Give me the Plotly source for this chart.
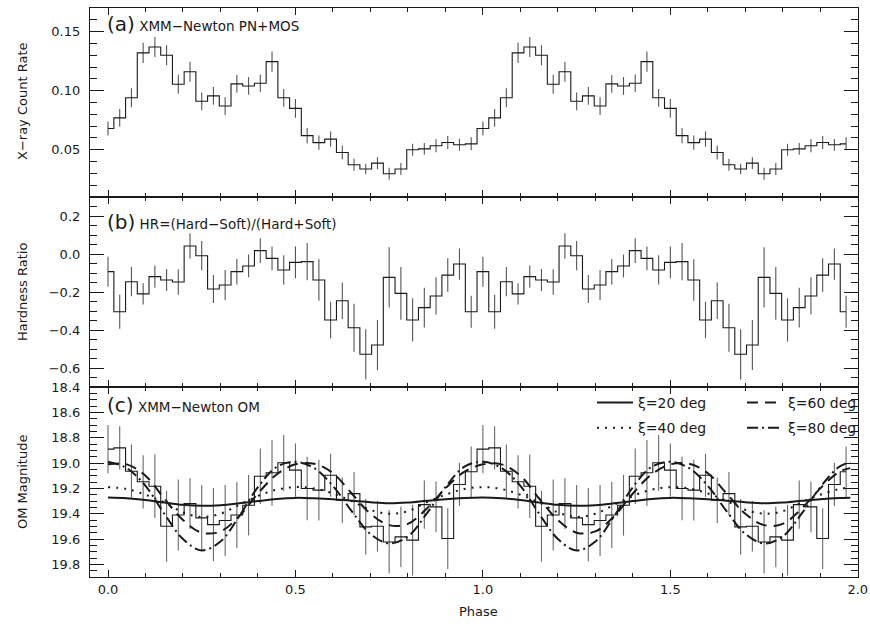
import plotly.graph_objects as go

# ---------------- data (one phase cycle of 32 bins, shown twice) ----------------
bin_phase = [k / 32 for k in range(32)]

rate = [0.068, 0.077, 0.094, 0.132, 0.137, 0.130, 0.1055, 0.116, 0.091, 0.0956,
        0.087, 0.1058, 0.104, 0.1063, 0.1246, 0.094, 0.085, 0.062, 0.056, 0.059,
        0.0477, 0.0373, 0.0337, 0.0387, 0.0297, 0.0337, 0.050, 0.0507, 0.0534, 0.0562,
        0.0542, 0.055]
rate_err = [0.0060, 0.0075, 0.0080, 0.0085, 0.0085, 0.0085, 0.0080, 0.0085, 0.0075, 0.0075,
            0.0075, 0.0075, 0.0075, 0.0075, 0.0085, 0.0075, 0.0080, 0.0065, 0.0060, 0.0065,
            0.0060, 0.0050, 0.0045, 0.0050, 0.0050, 0.0050, 0.0050, 0.0050, 0.0055, 0.0055,
            0.0050, 0.0055]

hr = [-0.093, -0.304, -0.146, -0.210, -0.119, -0.137, -0.147, 0.042, -0.009, -0.184,
      -0.163, -0.093, -0.063, 0.018, -0.023, -0.084, -0.044, -0.040, -0.137, -0.347,
      -0.246, -0.388, -0.528, -0.479, -0.123, -0.207, -0.347, -0.282, -0.221, -0.111,
      -0.053, -0.304]
hr_err = [0.079, 0.089, 0.077, 0.056, 0.058, 0.058, 0.067, 0.067, 0.077, 0.074,
          0.079, 0.067, 0.060, 0.065, 0.063, 0.077, 0.084, 0.098, 0.109, 0.096,
          0.096, 0.126, 0.132, 0.132, 0.158, 0.139, 0.114, 0.105, 0.098, 0.088,
          0.082, 0.084]

om = [18.89, 18.88, 19.064, 19.148, 19.183, 19.499, 19.41, 19.32, 19.433, 19.486,
      19.454, 19.41, 19.333, 19.104, 19.077, 18.998, 19.056, 19.201, 19.214, 19.096,
      19.293, 19.241, 19.504, 19.499, 19.623, 19.583, 19.609, 19.328, 19.346, 19.596,
      19.169, 19.069]
om_err = [0.19, 0.17, 0.21, 0.21, 0.25, 0.28, 0.28, 0.20, 0.26, 0.29,
          0.28, 0.26, 0.24, 0.22, 0.26, 0.22, 0.21, 0.25, 0.24, 0.17,
          0.18, 0.17, 0.22, 0.20, 0.25, 0.24, 0.28, 0.19, 0.20, 0.24,
          0.17, 0.20]

# model light curves read at phase steps of 0.05 over one cycle
model_phase = [0.00, 0.05, 0.10, 0.15, 0.20, 0.25, 0.30, 0.35, 0.40, 0.45,
               0.50, 0.55, 0.60, 0.65, 0.70, 0.75, 0.80, 0.85, 0.90, 0.95]
xi20 = [19.272, 19.278, 19.292, 19.312, 19.330, 19.338, 19.333, 19.318, 19.300, 19.283,
        19.275, 19.278, 19.285, 19.297, 19.310, 19.318, 19.312, 19.298, 19.285, 19.276]
xi40 = [19.19, 19.205, 19.25, 19.31, 19.39, 19.425, 19.40, 19.33, 19.26, 19.21,
        19.19, 19.20, 19.24, 19.30, 19.37, 19.40, 19.38, 19.31, 19.25, 19.205]
xi60 = [19.01, 19.01, 19.10, 19.28, 19.45, 19.55, 19.54, 19.42, 19.24, 19.09,
        19.01, 19.005, 19.08, 19.24, 19.40, 19.49, 19.48, 19.36, 19.20, 19.07]
xi80 = [18.99, 19.04, 19.18, 19.40, 19.60, 19.69, 19.62, 19.42, 19.19, 19.03,
        18.99, 19.04, 19.18, 19.38, 19.56, 19.635, 19.58, 19.40, 19.19, 19.03]
model_end_phase = 1.98
model_end = {"20": 19.273, "40": 19.19, "60": 19.04, "80": 18.995}

# ---------------- helpers ----------------
def two_cycles(vals):
    return list(vals) + list(vals)

ph = bin_phase + [p + 1 for p in bin_phase]
mph = model_phase + [p + 1 for p in model_phase] + [model_end_phase]

FONT = "DejaVu Sans"
INK = "#1a1a1a"
ERR = "#555555"

fig = go.Figure()

def step_trace(y, err, xa, ya, ecol):
    return go.Scatter(
        x=ph, y=two_cycles(y), xaxis=xa, yaxis=ya,
        mode="lines", line=dict(shape="hvh", color=INK, width=1.1),
        error_y=dict(type="data", array=two_cycles(err), width=0, thickness=1.1, color=ecol),
        showlegend=False, hoverinfo="skip",
    )

fig.add_trace(step_trace(rate, rate_err, "x", "y", ERR))
fig.add_trace(step_trace(hr, hr_err, "x2", "y2", ERR))
fig.add_trace(step_trace(om, om_err, "x3", "y3", "#6a6a6a"))

curve_specs = [
    ("20", xi20, dict(color=INK, width=2.0, dash="solid"), "legend", 1),
    ("40", xi40, dict(color=INK, width=2.0, dash="2px,6px"), "legend", 2),
    ("60", xi60, dict(color=INK, width=2.0, dash="11px,7px"), "legend2", 1),
    ("80", xi80, dict(color=INK, width=2.0, dash="11px,4px,2px,4px"), "legend2", 2),
]
for key, vals, ln, leg, rank in curve_specs:
    yv = two_cycles(vals) + [model_end[key]]
    fig.add_trace(go.Scatter(
        x=mph, y=yv, xaxis="x3", yaxis="y3", mode="lines",
        line=dict(shape="spline", smoothing=1.0, **ln),
        name="\u03be=" + key + " deg", legend=leg, legendrank=rank,
        legendgroup="g" + key, showlegend=True, hoverinfo="skip",
    ))

# ---------------- layout ----------------
H, W = 624, 870
ML, MR, MT, MB = 90, 12, 8, 47
ph_h = H - MT - MB
def ypix(y):  # pixel row -> paper fraction
    return (H - MB - y) / ph_h
def xpix(x):
    return (x - ML) / (W - ML - MR)

tickfont = dict(family=FONT, size=13, color=INK)

def xaxis(anchor, labels):
    d = dict(
        anchor=anchor, range=[-0.048, 2.0005], tick0=0, dtick=0.5,
        showline=True, linecolor=INK, linewidth=1.2, mirror="allticks",
        ticks="inside", ticklen=7, tickwidth=1, tickcolor=INK,
        minor=dict(ticks="inside", dtick=0.1, ticklen=3.5, tickwidth=1, tickcolor=INK),
        showticklabels=labels, tickformat=".1f", tickfont=tickfont,
        showgrid=False, zeroline=False,
    )
    if anchor != "y":
        d["matches"] = "x"
    return d

def yaxis(anchor, dom, rng, tick0, dtick, mdtick, fmt):
    return dict(
        anchor=anchor, domain=dom, range=rng, tick0=tick0, dtick=dtick,
        showline=True, linecolor=INK, linewidth=1.2, mirror="allticks",
        ticks="inside", ticklen=14, tickwidth=1, tickcolor=INK,
        minor=dict(ticks="inside", dtick=mdtick, ticklen=7, tickwidth=1, tickcolor=INK),
        tickformat=fmt, tickfont=tickfont, ticklabelstandoff=6,
        showgrid=False, zeroline=False,
    )

dom_a = [ypix(197), 1.0]
dom_b = [ypix(387), ypix(197)]
dom_c = [0.0, ypix(387)]

fig.update_layout(
    width=W, height=H,
    margin=dict(l=ML, r=MR, t=MT, b=MB, autoexpand=False),
    paper_bgcolor="white", plot_bgcolor="white",
    font=dict(family=FONT, size=13, color=INK),
    xaxis=xaxis("y", False),
    xaxis2=xaxis("y2", False),
    xaxis3=xaxis("y3", True),
    yaxis=yaxis("x", dom_a, [0.01, 0.17], 0.05, 0.05, 0.01, ".2f"),
    yaxis2=yaxis("x2", dom_b, [-0.7, 0.3], 0.0, 0.2, 0.05, ".1f"),
    yaxis3=yaxis("x3", dom_c, [19.9, 18.399], 18.4, 0.2, 0.05, ".1f"),
    legend=dict(x=xpix(592), y=ypix(387), xanchor="left", yanchor="top",
                bgcolor="rgba(0,0,0,0)", borderwidth=0, tracegroupgap=4,
                font=dict(family=FONT, size=14, color=INK), itemwidth=36),
    legend2=dict(x=xpix(742), y=ypix(387), xanchor="left", yanchor="top",
                 bgcolor="rgba(0,0,0,0)", borderwidth=0, tracegroupgap=4,
                 font=dict(family=FONT, size=14, color=INK), itemwidth=36),
    showlegend=True,
)

# panel labels
panel_labels = [
    ("(a)", "XMM\u2212Newton PN+MOS", 24),
    ("(b)", "HR=(Hard\u2212Soft)/(Hard+Soft)", 222),
    ("(c)", "XMM\u2212Newton OM", 405),
]
for tag, txt, ypx in panel_labels:
    fig.add_annotation(
        xref="paper", yref="paper", x=xpix(105), y=ypix(ypx), xanchor="left", yanchor="middle",
        text='<span style="font-size:20px">' + tag + '</span> ' + txt,
        showarrow=False, font=dict(family=FONT, size=13.5, color=INK),
    )

# axis titles
axis_titles = [("X\u2212ray Count Rate", 102), ("Hardness Ratio", 292), ("OM Magnitude", 482)]
for txt, ypx in axis_titles:
    fig.add_annotation(
        xref="paper", yref="paper", x=xpix(22), y=ypix(ypx), xanchor="center", yanchor="middle",
        text=txt, textangle=-90, showarrow=False, font=dict(family=FONT, size=13, color=INK),
    )
fig.add_annotation(
    xref="paper", yref="paper", x=xpix(478), y=ypix(611), xanchor="center", yanchor="middle",
    text="Phase", showarrow=False, font=dict(family=FONT, size=13, color=INK),
)

fig.write_html(
    "out.html",
    config={"displayModeBar": False},
    post_script="document.body.style.margin='0px';document.body.style.overflow='hidden';",
)
